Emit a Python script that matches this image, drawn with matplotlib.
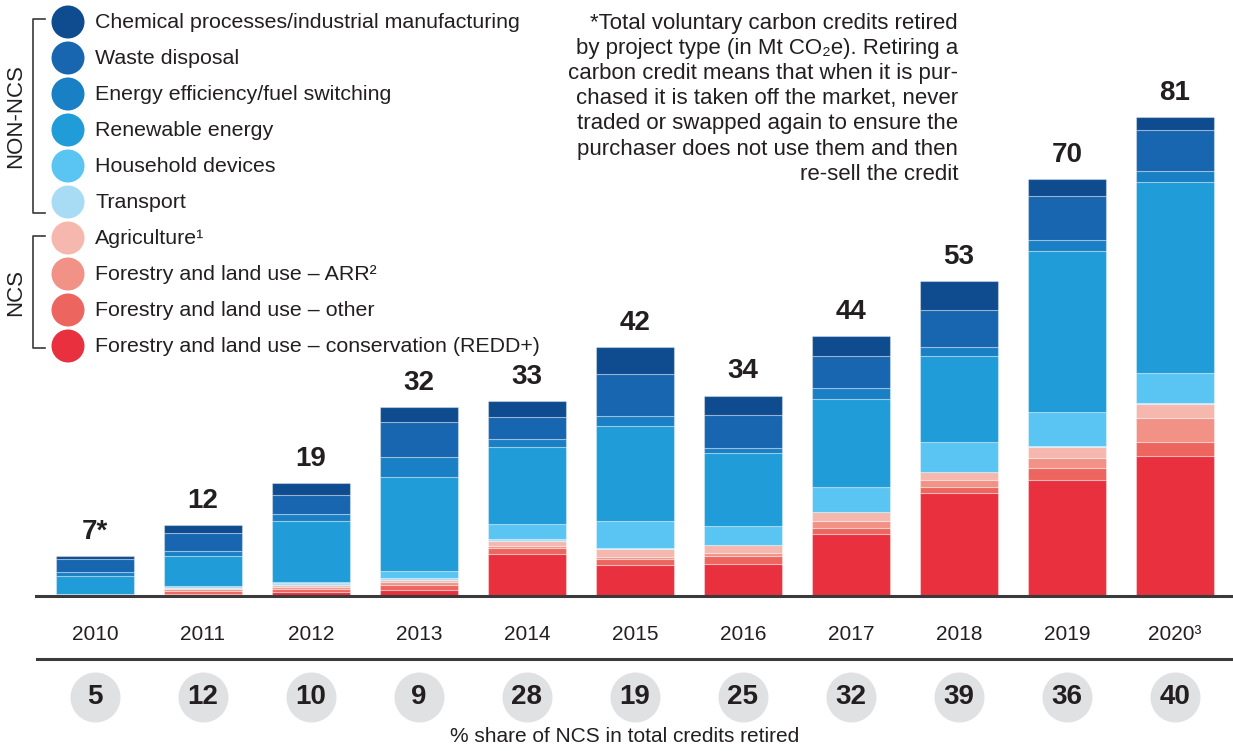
import matplotlib
matplotlib.use('Agg')
import matplotlib.pyplot as plt
from matplotlib.transforms import blended_transform_factory
from matplotlib.lines import Line2D

FONT = ['Liberation Sans Narrow', 'Liberation Sans', 'DejaVu Sans']
plt.rcParams['font.family'] = FONT
TXT = '#231f20'

# ---------------- data ----------------
years = ['2010', '2011', '2012', '2013', '2014', '2015', '2016', '2017', '2018', '2019', '2020³']
total_labels = ['7*', '12', '19', '32', '33', '42', '34', '44', '53', '70', '81']
ncs_share = [5, 12, 10, 9, 28, 19, 25, 32, 39, 36, 40]

# segments, stacked bottom -> top (Mt CO2e)
redd      = [0.05, 0.28, 0.68, 0.96, 7.13, 5.20, 5.49, 10.58, 17.43, 19.64, 23.80]
other     = [0.30, 0.51, 0.57, 0.85, 0.96, 1.02, 1.30, 1.02, 1.08, 1.98, 2.26]
arr       = [0.00, 0.34, 0.34, 0.51, 0.40, 0.45, 0.57, 1.13, 1.19, 1.70, 4.07]
agri      = [0.00, 0.23, 0.28, 0.45, 0.85, 1.25, 1.25, 1.47, 1.25, 1.87, 2.43]
transport = [0.00, 0.28, 0.28, 0.23, 0.28, 0.28, 0.10, 0.10, 0.10, 0.15, 0.10]
household = [0.00, 0.05, 0.17, 1.30, 2.60, 4.58, 3.17, 4.24, 5.04, 5.90, 5.15]
renewable = [3.00, 5.03, 10.46, 15.79, 12.96, 16.07, 12.34, 14.83, 14.60, 27.30, 32.30]
eff       = [0.68, 0.90, 1.19, 3.40, 1.36, 1.70, 0.85, 1.81, 1.58, 1.81, 1.98]
waste     = [2.26, 3.05, 3.17, 6.00, 3.74, 7.02, 5.66, 5.55, 6.28, 7.47, 6.80]
chemical  = [0.45, 1.41, 1.98, 2.60, 2.77, 4.64, 3.23, 3.34, 4.75, 2.89, 2.26]

legend_labels = ['Chemical processes/industrial manufacturing', 'Waste disposal',
                 'Energy efficiency/fuel switching', 'Renewable energy', 'Household devices',
                 'Transport', 'Agriculture¹', 'Forestry and land use – ARR²',
                 'Forestry and land use – other', 'Forestry and land use – conservation (REDD+)']
legend_colors = ['#0f4c8f', '#1866b0', '#1a80c5', '#209cd8', '#5ac5f2', '#a8dcf5',
                 '#f6b8ae', '#f29186', '#ed655f', '#e8303f']

stack = [redd, other, arr, agri, transport, household, renewable, eff, waste, chemical]
stack_colors = legend_colors[::-1]

note_lines = ['*Total voluntary carbon credits retired',
              'by project type (in Mt CO₂e). Retiring a',
              'carbon credit means that when it is pur-',
              'chased it is taken off the market, never',
              'traded or swapped again to ensure the',
              'purchaser does not use them and then',
              're-sell the credit']

# ---------------- figure ----------------
W, H = 1233, 751
fig = plt.figure(figsize=(W / 100, H / 100), dpi=100)

def fx(px):
    return px / W

def fy(py):
    return 1 - py / H

base_px = 596
ax = fig.add_axes([fx(36), fy(base_px), fx(W - 36), base_px / H])
x = list(range(len(years)))
bottom = [0.0] * len(years)
for vals, col in zip(stack, stack_colors):
    ax.bar(x, vals, bottom=bottom, width=0.72, color=col,
           edgecolor=(1, 1, 1, 0.35), linewidth=0.8)
    bottom = [b + v for b, v in zip(bottom, vals)]

ax.set_xlim(-0.546, 10.537)
ax.set_ylim(0, 101)
for s in ['top', 'right', 'left']:
    ax.spines[s].set_visible(False)
ax.spines['bottom'].set_color('#3a3a3a')
ax.spines['bottom'].set_linewidth(2.2)
ax.set_xticks([])
ax.set_yticks([])
ax.patch.set_alpha(0)

for xi, tot, lab in zip(x, bottom, total_labels):
    ax.annotate(lab, (xi, tot), xytext=(0, 8), textcoords='offset points',
                ha='center', va='bottom', fontsize=20, fontweight='bold', color=TXT)

trans = blended_transform_factory(ax.transData, fig.transFigure)
for xi, yr in zip(x, years):
    ax.text(xi, fy(634), yr, transform=trans, ha='center', va='center',
            fontsize=15, color=TXT, clip_on=False)
ax.scatter(x, [fy(697)] * len(x), s=1296, color='#e0e1e3', transform=trans,
           clip_on=False, zorder=3, linewidths=0)
for xi, v in zip(x, ncs_share):
    ax.text(xi, fy(697), str(v), transform=trans, ha='center', va='center',
            fontsize=20, fontweight='bold', color=TXT, clip_on=False, zorder=4)

fig.add_artist(Line2D([fx(37), 1], [fy(659), fy(659)], color='#3a3a3a', lw=2.2))
fig.text(fx(625), fy(737), '% share of NCS in total credits retired', ha='center',
         va='center', fontsize=15, color=TXT)

# ---------------- legend ----------------
ov = fig.add_axes([0, 0, 1, 1])
ov.set_xlim(0, W)
ov.set_ylim(H, 0)
ov.axis('off')
ov.patch.set_alpha(0)
row_y = [22 + 36.0 * i for i in range(len(legend_labels))]
ov.scatter([68] * len(row_y), row_y, s=(33 * 0.72) ** 2, c=legend_colors, linewidths=0)
for yy, lab in zip(row_y, legend_labels):
    ov.text(95, yy, lab, ha='left', va='center', fontsize=15.4, color=TXT)

def bracket(y0, y1, label):
    ov.plot([45, 33, 33, 45], [y0, y0, y1, y1], color='#3a3a3a', lw=1.2)
    ov.text(16, (y0 + y1) / 2, label, rotation=90, ha='center', va='center',
            fontsize=16, color=TXT)

bracket(19, 213, 'NON-NCS')
bracket(236, 348, 'NCS')

for i, line in enumerate(note_lines):
    ov.text(958, 23 + 25.2 * i, line, ha='right', va='center', fontsize=16, color=TXT)

fig.savefig('out.png', dpi=100)
